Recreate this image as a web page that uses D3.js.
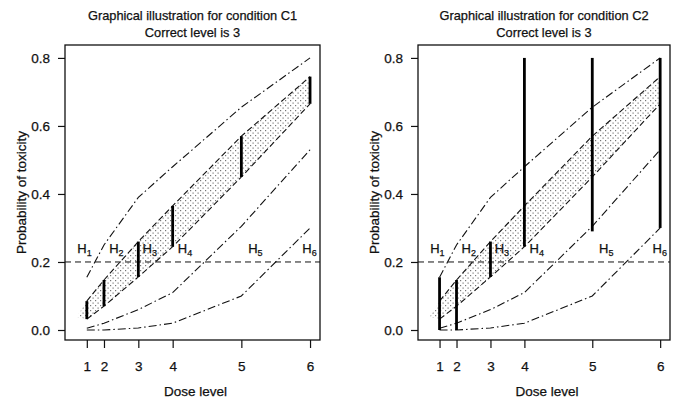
<!DOCTYPE html>
<html>
<head>
<meta charset="utf-8">
<script src="https://cdn.jsdelivr.net/npm/d3@7"></script>
<style>
body { margin: 0; background: #fff; }
text { font-family: "Liberation Sans", Arial, sans-serif; fill: #111; stroke: #111; stroke-width: 0.25px; }
</style>
</head>
<body>
<script>
// dose levels, and where each one sits on the x axis
var doseLabels = ["1", "2", "3", "4", "5", "6"];
var dosePos = [1, 2, 4, 6, 10, 14];
var yTicks = [0.0, 0.2, 0.4, 0.6, 0.8];
var target = 0.2;

// dose-toxicity curves (dash-dot)
var curveTop = [0.155, 0.25, 0.39, 0.48, 0.655, 0.80];
var curveMid = [0.005, 0.02, 0.06, 0.11, 0.305, 0.53];
var curveLow = [0.0, 0.0, 0.006, 0.02, 0.10, 0.30];

// shaded interval, with the little tip left of dose 1
var bandUp = [0.085, 0.147, 0.26, 0.365, 0.57, 0.745];
var bandLow = [0.032, 0.07, 0.156, 0.245, 0.45, 0.665];
var bandTip = [0.42, 0.038];

// hypothesis labels H1..H6
var hypLabels = ["1", "2", "3", "4", "5", "6"];
var hypPos = [0.45, 2.3, 4.25, 6.3, 10.4, 13.55];

// vertical intervals drawn for each condition
var barsC1 = bandLow.map(function(v, i) { return [v, bandUp[i]]; });
var barsC2 = [[0, 0.155], [0, 0.147], [0.156, 0.26], [0.245, 0.8], [0.29, 0.8], [0.30, 0.8]];

var titles = ["Graphical illustration for condition C1", "Graphical illustration for condition C2"];

// layout
var W = 676, H = 400;
var panels = [
    {title: titles[0], bars: barsC1, x0: 65, x1: 320},
    {title: titles[1], bars: barsC2, x0: 418, x1: 670}
];
var yTop = 45, yBot = 340;

var svg = d3.select("body").append("svg")
    .attr("width", W).attr("height", H);

var defs = svg.append("defs");
var pat = defs.append("pattern")
    .attr("id", "stip")
    .attr("width", 5).attr("height", 5)
    .attr("patternUnits", "userSpaceOnUse");
pat.append("rect").attr("x", 0).attr("y", 0).attr("width", 1.2).attr("height", 1.2).attr("fill", "#777");
pat.append("rect").attr("x", 2.5).attr("y", 2.5).attr("width", 1.2).attr("height", 1.2).attr("fill", "#777");

function draw_panel(p) {
    var x = d3.scaleLinear().domain([-0.27, 14.58]).range([p.x0, p.x1]);
    var y = d3.scaleLinear().domain([-0.0294, 0.838]).range([yBot, yTop]);
    var g = svg.append("g");
    var mid = (p.x0 + p.x1) / 2;

    // shaded band
    var poly = [bandTip].concat(dosePos.map(function(d, i) { return [d, bandUp[i]]; }))
        .concat(dosePos.map(function(d, i) { return [d, bandLow[i]]; }).reverse());
    g.append("path")
        .attr("d", "M" + poly.map(function(q) { return x(q[0]) + "," + y(q[1]); }).join("L") + "Z")
        .attr("fill", "url(#stip)");

    var line = d3.line()
        .x(function(d, i) { return x(dosePos[i]); })
        .y(function(d) { return y(d); });

    [curveTop, curveMid, curveLow].forEach(function(c) {
        g.append("path").attr("d", line(c))
            .attr("fill", "none").attr("stroke", "#111").attr("stroke-width", 1.1)
            .attr("stroke-dasharray", "8,3,1.5,3");
    });
    [bandUp, bandLow].forEach(function(c) {
        g.append("path").attr("d", line(c))
            .attr("fill", "none").attr("stroke", "#111").attr("stroke-width", 1.1)
            .attr("stroke-dasharray", "6,3");
    });

    // target line
    g.append("line")
        .attr("x1", p.x0).attr("x2", p.x1)
        .attr("y1", y(target)).attr("y2", y(target))
        .attr("stroke", "#111").attr("stroke-dasharray", "6,4");

    // intervals
    g.selectAll(".bar").data(p.bars).enter().append("line")
        .attr("x1", function(d, i) { return x(dosePos[i]); })
        .attr("x2", function(d, i) { return x(dosePos[i]); })
        .attr("y1", function(d) { return y(d[0]); })
        .attr("y2", function(d) { return y(d[1]); })
        .attr("stroke", "#000").attr("stroke-width", 2.8);

    // H labels
    var hl = g.selectAll(".hyp").data(hypLabels).enter().append("text")
        .attr("x", function(d, i) { return x(hypPos[i]); })
        .attr("y", 253)
        .attr("font-size", 13);
    hl.append("tspan").text("H");
    hl.append("tspan").attr("font-size", 9).attr("dy", 3).text(function(d) { return d; });

    // box
    g.append("rect")
        .attr("x", p.x0).attr("y", yTop)
        .attr("width", p.x1 - p.x0).attr("height", yBot - yTop)
        .attr("fill", "none").attr("stroke", "#111").attr("stroke-width", 1.3);

    // axes
    var ax = g.append("g").attr("transform", "translate(" + p.x0 + ",0)")
        .call(d3.axisLeft(y).tickValues(yTicks).tickFormat(d3.format(".1f"))
            .tickSize(7).tickPadding(8));
    ax.select(".domain").remove();
    ax.selectAll("text").attr("font-size", 13.5).attr("font-family", null);
    ax.selectAll("line").attr("stroke", "#111").attr("stroke-width", 1.2);

    var bx = g.append("g").attr("transform", "translate(0," + yBot + ")")
        .call(d3.axisBottom(x).tickValues(dosePos)
            .tickFormat(function(d, i) { return doseLabels[i]; })
            .tickSize(8).tickPadding(13));
    bx.select(".domain").remove();
    bx.selectAll("text").attr("font-size", 13.5).attr("font-family", null);
    bx.selectAll("line").attr("stroke", "#111").attr("stroke-width", 1.2);

    // titles and axis labels
    g.append("text").attr("x", mid).attr("y", 19.5).attr("text-anchor", "middle")
        .attr("font-size", 12.8).text(p.title);
    g.append("text").attr("x", mid).attr("y", 36.5).attr("text-anchor", "middle")
        .attr("font-size", 12.8).text("Correct level is 3");
    g.append("text").attr("x", mid + 3).attr("y", 396).attr("text-anchor", "middle")
        .attr("font-size", 13.5).text("Dose level");
    g.append("text")
        .attr("transform", "translate(" + (p.x0 - 44) + "," + ((yTop + yBot) / 2) + ") rotate(-90)")
        .attr("text-anchor", "middle").attr("dominant-baseline", "central")
        .attr("font-size", 13.5).text("Probability of toxicity");
}

panels.forEach(draw_panel);
</script>
</body>
</html>
